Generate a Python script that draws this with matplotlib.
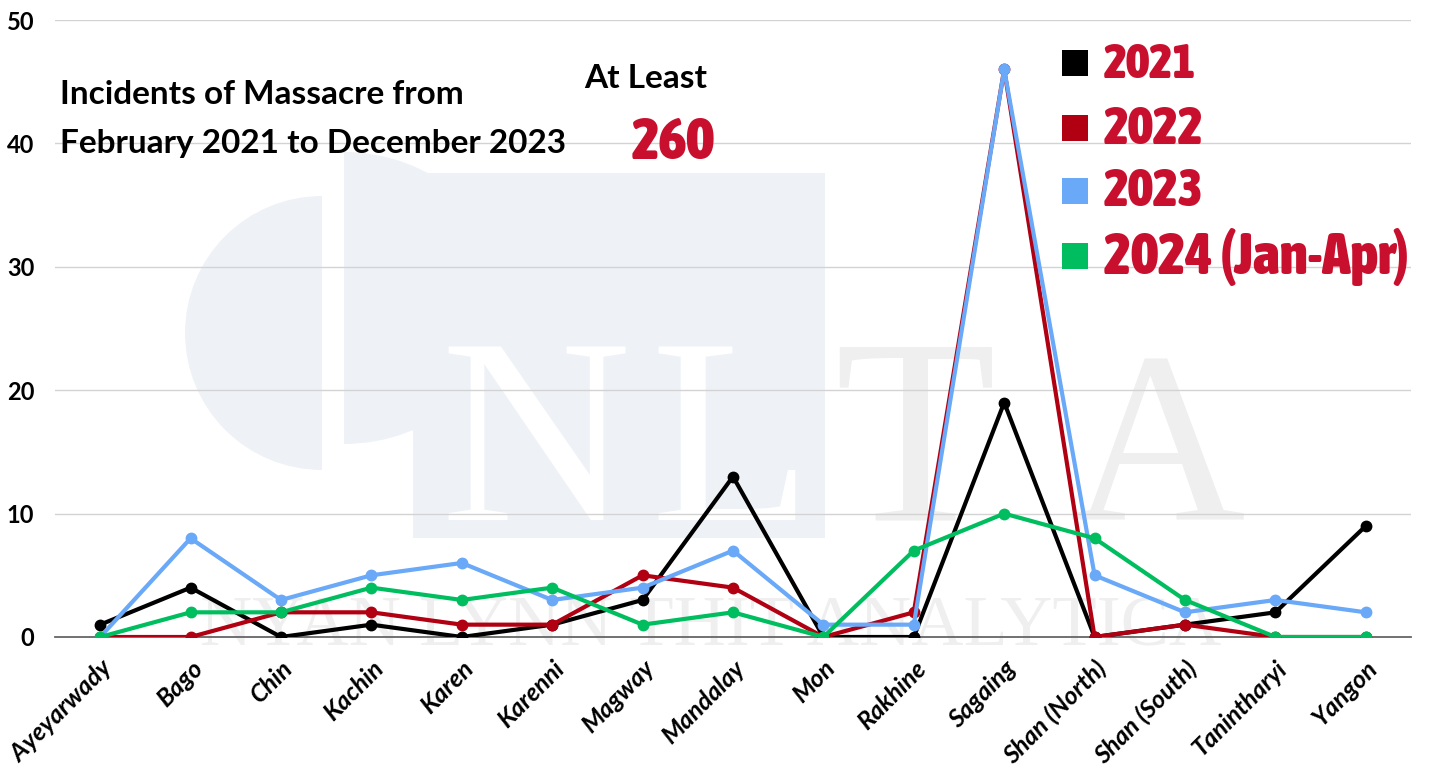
import numpy as np
import matplotlib
matplotlib.use("Agg")
import matplotlib.pyplot as plt
from matplotlib import font_manager as fm
from matplotlib.patches import Rectangle, Ellipse, Wedge

regions = ["Ayeyarwady", "Bago", "Chin", "Kachin", "Karen", "Karenni", "Magway",
           "Mandalay", "Mon", "Rakhine", "Sagaing", "Shan (North)", "Shan (South)",
           "Tanintharyi", "Yangon"]
y2021 = [1, 4, 0, 1, 0, 1, 3, 13, 0, 0, 19, 0, 1, 2, 9]
y2022 = [0, 0, 2, 2, 1, 1, 5, 4, 0, 2, 46, 0, 1, 0, 0]
y2023 = [0, 8, 3, 5, 6, 3, 4, 7, 1, 1, 46, 5, 2, 3, 2]
y2024 = [0, 2, 2, 4, 3, 4, 1, 2, 0, 7, 10, 8, 3, 0, 0]
series_names = ["2021", "2022", "2023", "2024 (Jan-Apr)"]
series_colors = ["#000000", "#B00012", "#6AA8F8", "#00BE5F"]
yticks = [0, 10, 20, 30, 40, 50]

title = "Incidents of Massacre from\nFebruary 2021 to December 2023"
crimson = "#C8102E"

# look for a condensed / narrow bold face for the big red numbers
narrow_fp = None
cands = [f for f in fm.fontManager.ttflist
         if "Condensed" in f.name or "Narrow" in f.name or f.stretch != "normal"]
if cands:
    cands.sort(key=lambda f: -(f.weight if isinstance(f.weight, int) else
                               {"bold": 700, "heavy": 800, "black": 900}.get(f.weight, 400)))
    narrow_fp = cands[0].fname


def big_red(t, xx, yy, target_w, **kw):
    if narrow_fp:
        txt = top.text(xx, yy, t, fontproperties=fm.FontProperties(fname=narrow_fp),
                       color=crimson, **kw)
    else:
        txt = top.text(xx, yy, t, family="Roboto", fontweight="bold",
                       color=crimson, **kw)
    txt.set_fontsize(40)
    w = txt.get_window_extent(renderer=fig.canvas.get_renderer()).width
    txt.set_fontsize(40 * target_w / w)
    return txt


fig = plt.figure(figsize=(14.32, 7.72), dpi=100)

# background layer in pixel coords for the watermark logo
bg = fig.add_axes([0, 0, 1, 1], zorder=0)
bg.set_xlim(0, 1432)
bg.set_ylim(772, 0)
bg.axis("off")
wm = "#EEF2F7"
bg.add_patch(Wedge((322, 333), 137, 90, 270, facecolor=wm, edgecolor="none"))
dshape = bg.add_patch(Ellipse((344, 298), 324, 292, facecolor=wm, edgecolor="none"))
dclip = Rectangle((344, 0), 600, 772, transform=bg.transData, visible=False)
bg.add_patch(dclip)
dshape.set_clip_path(dclip)
bg.add_patch(Rectangle((413, 173), 412, 365, facecolor=wm, edgecolor="none"))
bg.text(440, 520, "N", fontsize=190, family="Liberation Serif", color="white", va="baseline")
bg.text(650, 520, "L", fontsize=190, family="Liberation Serif", color="white", va="baseline")
bg.text(834, 520, "T", fontsize=190, family="Liberation Serif", color="#EFEFEF", va="baseline")
bg.text(1070, 520, "A", fontsize=175, family="Liberation Serif", color="#EFEFEF", va="baseline")
wt = bg.text(200, 646, "NYAN LYNN THIT ANALYTICA", fontsize=52, family="Liberation Serif",
             color="#EFEFEF", va="baseline")
clip = Rectangle((0, 0), 1432, 637, transform=bg.transData, visible=False)
bg.add_patch(clip)
wt.set_clip_path(clip)

ax = fig.add_axes([55 / 1432, 135 / 772, 1356 / 1432, 617 / 772], zorder=1)
ax.set_facecolor("none")
x = np.arange(len(regions))
for vals, name, col in zip([y2021, y2022, y2023, y2024], series_names, series_colors):
    ax.plot(x, vals, color=col, lw=3, marker="o", ms=7.5, label=name,
            solid_joinstyle="round", zorder=3)

ax.set_xlim(-0.5, len(regions) - 0.5)
ax.set_ylim(0, 50)
ax.set_yticks(yticks)
ax.set_xticks(x)
ax.set_xticklabels(regions, rotation=45, ha="right", rotation_mode="anchor",
                   fontsize=18, fontweight="bold", style="italic", family="Lato")
for lab in ax.get_yticklabels():
    lab.set_fontsize(17)
    lab.set_fontweight("bold")
    lab.set_family("Lato")
ax.tick_params(axis="both", length=0)
ax.tick_params(axis="y", pad=15)
ax.tick_params(axis="x", pad=14)
ax.grid(axis="y", color="#D3D3D3", lw=1)
ax.set_axisbelow(True)
for s in ["top", "right", "left"]:
    ax.spines[s].set_visible(False)
ax.spines["bottom"].set_color("#666666")
ax.spines["bottom"].set_linewidth(1.3)
ax.spines["bottom"].set_zorder(2)

# overlay layer for title / legend so they sit above the gridlines
top = fig.add_axes([0, 0, 1, 1], zorder=2)
top.set_xlim(0, 1432)
top.set_ylim(772, 0)
top.axis("off")
top.patch.set_visible(False)

top.text(60, 119, title, fontsize=24, fontweight="bold", family="Lato", va="center",
         linespacing=1.8)
top.text(646, 78, "At Least", fontsize=24, fontweight="bold", family="Lato",
         ha="center", va="center")
big_red("260", 673, 143, 83, ha="center", va="center")

# legend
leg_y = [63, 128, 191, 256]
leg_w = [93, 100, 100, 305]
for ly, name, col, lw_ in zip(leg_y, series_names, series_colors, leg_w):
    top.add_patch(Rectangle((1062, ly - 13), 26, 26, facecolor=col, edgecolor="none"))
    big_red(name, 1104, ly + 1, lw_, va="center")

fig.savefig("out.png", dpi=100)
